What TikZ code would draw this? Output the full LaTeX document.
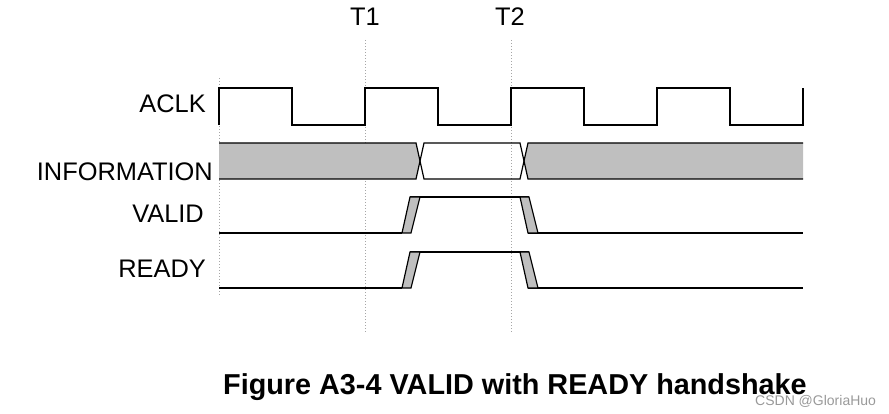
\documentclass[tikz,border=0pt]{standalone}
\usepackage{fontspec}
\setmainfont{Liberation Sans}
\usetikzlibrary{positioning}

\begin{document}
\begin{tikzpicture}[x=1pt,y=-1pt]
\tikzset{wave/.style={black,line width=1.2pt,line join=miter},
  guide/.style={gray!70,dotted,line width=1pt},
  sig/.style={font=\fontsize{25.4}{29}\selectfont,inner sep=0pt,anchor=base east},
  edgebox/.style={fill=gray!50,draw=black,line width=1.2pt}}
\useasboundingbox (0,0) rectangle (889,414);
% guide lines
\draw[guide] (219,78) -- (219,296);
\draw[guide] (365,40) -- (365,332);
\draw[guide] (511,40) -- (511,332);
\node[sig,anchor=base] (t1) at (365,25.7) {T1};
\node[sig,anchor=base] (t2) at (510,25.7) {T2};
% ACLK
\node[sig] (aclk) at (206,113) {ACLK};
\draw[wave] (219,125) -- (219,88)
  \foreach \x in {219,365,511,657} {-- (\x+73,88) -- (\x+73,125) -- (\x+146,125) -- (\x+146,88)};
% INFORMATION
\node[sig] (info) at (213,181) {INFORMATION};
\fill[gray!50] (219,143) -- (416,143) -- (420,161) -- (416,179) -- (219,179) -- cycle;
\fill[gray!50] (803,143) -- (528,143) -- (524,161) -- (528,179) -- (803,179) -- cycle;
\draw[wave] (219,143) -- (416,143) -- (424,179) -- (520,179) -- (528,143) -- (803,143);
\draw[wave] (219,179) -- (416,179) -- (424,143) -- (520,143) -- (528,179) -- (803,179);
% VALID and READY
\node[sig] (valid) at (204,223) {VALID};
\node[sig] (ready) at (206,277) {READY};
\foreach \y in {197,252} {
  \draw[wave] (219,\y+36) -- (402,\y+36);
  \draw[wave] (410,\y) -- (529,\y);
  \draw[wave] (528,\y+36) -- (803,\y+36);
  \filldraw[edgebox] (402,\y+36) -- (410,\y) -- (420,\y) -- (411,\y+36) -- cycle;
  \filldraw[edgebox] (520,\y) -- (529,\y) -- (538,\y+36) -- (528,\y+36) -- cycle;
}
% caption
\node[anchor=base west,inner sep=0pt,font=\bfseries\fontsize{28.8}{33}\selectfont] (caption) at (223,394) {Figure A3-4 VALID with READY handshake};
\node[anchor=base west,inner sep=0pt,text=gray!80,font=\fontsize{14}{16}\selectfont] (mark) at (755,405) {CSDN @GloriaHuo};
\end{tikzpicture}
\end{document}
